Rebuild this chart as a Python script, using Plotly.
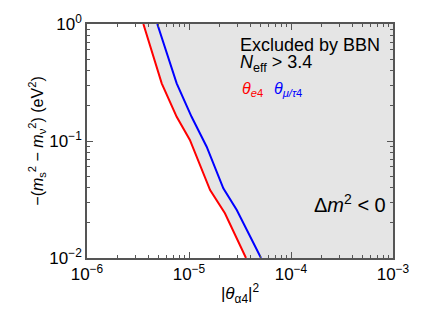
import plotly.graph_objects as go

# bounds
red_x = [3.57e-6, 4.47e-6, 5.40e-6, 7.57e-6, 1.02e-5, 1.61e-5, 2.25e-5, 3.62e-5]
red_y = [1.0, 0.526, 0.311, 0.161, 0.102, 0.0381, 0.0241, 0.01]
blue_x = [4.89e-6, 6.27e-6, 7.57e-6, 1.06e-5, 1.49e-5, 2.17e-5, 2.94e-5, 5.08e-5]
blue_y = [1.0, 0.526, 0.311, 0.161, 0.0894, 0.0394, 0.0257, 0.01]

x_range = [1e-6, 1e-3]
y_range = [1e-2, 1.0]
x_tickvals = [1e-6, 1e-5, 1e-4, 1e-3]
x_ticktext = ["10<sup>\u22126</sup>", "10<sup>\u22125</sup>", "10<sup>\u22124</sup>", "10<sup>\u22123</sup>"]
y_tickvals = [1e-2, 1e-1, 1.0]
y_ticktext = ["10<sup>\u22122</sup>", "10<sup>\u22121</sup>", "10<sup>0</sup>"]

font = "Liberation Sans, Arial, sans-serif"

fig = go.Figure()

# excluded region: right of the red curve
fig.add_trace(go.Scatter(
    x=red_x + [x_range[1], x_range[1]],
    y=red_y + [y_range[0], y_range[1]],
    fill="toself", fillcolor="#e5e5e5", mode="none", hoverinfo="skip",
))
fig.add_trace(go.Scatter(x=red_x, y=red_y, mode="lines", line=dict(color="#ff0000", width=2)))
fig.add_trace(go.Scatter(x=blue_x, y=blue_y, mode="lines", line=dict(color="#0000ff", width=2)))

axis_common = dict(
    type="log", ticks="inside", ticklen=6, mirror="ticks", showline=True,
    linecolor="#555555", linewidth=1.5, tickcolor="#555555", showgrid=False,
    zeroline=False, automargin=False, tickfont=dict(size=17, color="black"),
    minor=dict(ticks="inside", ticklen=3, dtick="D1", tickcolor="#555555", showgrid=False),
)

fig.update_xaxes(
    range=[-6, -3], tickvals=x_tickvals, ticktext=x_ticktext,
    title=dict(text="|<i>θ</i><sub>α4</sub>|<sup>2</sup>", font=dict(size=17), standoff=4),
    **axis_common,
)
fig.update_yaxes(
    range=[-2, 0], tickvals=y_tickvals, ticktext=y_ticktext,
    title=dict(text="\u2212(<i>m</i><sub>s</sub><sup>2</sup> \u2212 <i>m</i><sub>ν</sub><sup>2</sup>) (eV<sup>2</sup>)",
               font=dict(size=16), standoff=2),
    **axis_common,
)

ann = [
    dict(x=0.493, y=0.91, text="Excluded by BBN", font=dict(size=18)),
    dict(x=0.493, y=0.83, text="<i>N</i><sub>eff</sub> > 3.4", font=dict(size=18)),
    dict(x=0.5, y=0.72, text="<i>θ</i><sub><i>e</i>4</sub>", font=dict(size=16, color="#ff0000")),
    dict(x=0.605, y=0.72, text="<i>θ</i><sub><i>μ/τ</i>4</sub>", font=dict(size=16, color="#0000ff")),
]
for a in ann:
    fig.add_annotation(xref="paper", yref="paper", xanchor="left", yanchor="middle", showarrow=False, **a)
fig.add_annotation(xref="paper", yref="paper", x=0.985, y=0.235, xanchor="right", yanchor="middle",
                   showarrow=False, text="Δ<i>m</i><sup>2</sup> < 0", font=dict(size=20))

# page body has an 8px margin, so the figure is sized to fit inside the window
fig.update_layout(
    width=420, height=313, showlegend=False,
    margin=dict(l=79, r=35, t=16, b=63),
    paper_bgcolor="white", plot_bgcolor="white",
    font=dict(family=font, color="black"),
)

fig.write_html("out.html")
